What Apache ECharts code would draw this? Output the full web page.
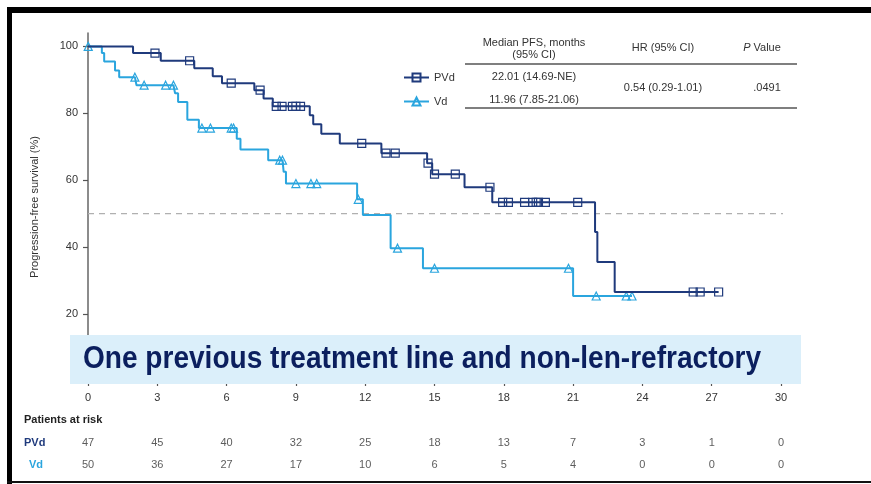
<!DOCTYPE html>
<html><head><meta charset="utf-8">
<script src="https://cdn.jsdelivr.net/npm/echarts@6/dist/echarts.min.js"></script>
<style>html,body{margin:0;padding:0;background:#fff}#c{width:871px;height:484px}</style>
</head><body><div id="c"></div>
<script>
// ---- data ----
const xTicks = [0, 3, 6, 9, 12, 15, 18, 21, 24, 27, 30];
const yTicks = [0, 20, 40, 60, 80, 100];
const pvdEvents = [[0,100],[1.95,98.0],[3.15,95.7],[4.6,93.5],[5.4,91.1],[5.8,89.0],[7.2,86.9],[7.6,84.4],[8.0,82.1],[9.6,79.4],[9.75,76.7],[10.1,73.9],[10.9,71.0],[12.7,68.1],[14.68,65.1],[14.9,61.8],[16.3,57.9],[17.5,53.4],[21.95,44.5],[22.05,35.6],[22.8,26.6]];
const pvdCensors = [[2.9,98.0],[4.4,95.7],[6.2,89.0],[7.45,86.9],[8.15,82.1],[8.4,82.1],[8.85,82.1],[9.0,82.1],[9.2,82.1],[11.85,71.0],[12.9,68.1],[13.3,68.1],[14.72,65.1],[15.0,61.8],[15.9,61.8],[17.4,57.9],[17.95,53.4],[18.2,53.4],[18.9,53.4],[19.25,53.4],[19.4,53.4],[19.5,53.4],[19.8,53.4],[21.2,53.4],[26.2,26.6],[26.5,26.6],[27.3,26.6]];
const vdEvents = [[0,100],[0.6,98.0],[0.7,95.5],[1.17,92.8],[1.35,90.8],[2.1,88.4],[3.77,86.0],[3.9,83.4],[4.3,78.1],[4.8,75.6],[6.44,72.4],[6.6,69.2],[7.8,66.0],[8.47,62.5],[8.57,59.0],[11.65,54.3],[11.9,49.6],[13.1,39.7],[14.5,33.7],[21.0,25.4]];
const vdCensors = [[0.01,100],[2.03,90.8],[2.43,88.4],[3.36,88.4],[3.7,88.4],[4.93,75.6],[5.3,75.6],[6.2,75.6],[6.3,75.6],[8.3,66.0],[8.42,66.0],[9.0,59.0],[9.65,59.0],[9.9,59.0],[11.7,54.3],[13.4,39.7],[15.0,33.7],[20.8,33.7],[22.0,25.4],[23.3,25.4],[23.55,25.4]];
const refLine = [[0,50],[30.87,50]];
const riskTimes = [0, 3, 6, 9, 12, 15, 18, 21, 24, 27, 30];
const riskPVd = [47, 45, 40, 32, 25, 18, 13, 7, 3, 1, 0];
const riskVd = [50, 36, 27, 17, 10, 6, 5, 4, 0, 0, 0];
const seriesNames = ['PVd', 'Vd'];
const medianPFS = ['22.01 (14.69-NE)', '11.96 (7.85-21.06)'];
const hrText = '0.54 (0.29-1.01)';
const pText = '.0491';
const boxTitle = 'One previous treatment line and non-len-refractory';

const NAVY = '#1f3a7c', LBLUE = '#2aa5de';

function build(events, censors) {
  const pts = events.map(p => ({ value: p, symbol: 'none' }))
    .concat(censors.map(p => ({ value: p })));
  pts.sort((a, b) => a.value[0] - b.value[0]);
  return pts;
}

const chart = echarts.init(document.getElementById('c'));
const FONT = '"Liberation Sans", Arial, sans-serif';
const txt = (x, y, text, extra) => ({ type: 'text', z: 50, style: Object.assign({ x, y, text, fill: '#333', font: '11px ' + FONT, align: 'center', verticalAlign: 'middle' }, extra || {}) });
const rule = (y) => ({ type: 'line', z: 50, shape: { x1: 465, y1: y, x2: 797, y2: y }, style: { stroke: '#555', lineWidth: 1.5 } });

chart.setOption({
  animation: false,
  textStyle: { fontFamily: FONT },
  grid: [
    { left: 88, width: 693, top: 33, height: 348 },
    { left: 88, width: 693, top: 443, height: 22 }
  ],
  xAxis: [
    { type: 'value', gridIndex: 0, min: 0, max: 30, interval: 3, offset: 2,
      axisLine: { show: false }, splitLine: { show: false },
      axisTick: { show: true, length: 5, lineStyle: { color: '#555', width: 1.2 } },
      axisLabel: { color: '#333', fontSize: 11, margin: 9 } },
    { type: 'value', gridIndex: 1, min: 0, max: 30, show: false }
  ],
  yAxis: [
    { type: 'value', gridIndex: 0, min: 0, max: 104,
      name: 'Progression-free survival (%)', nameLocation: 'middle', nameGap: 48,
      nameTextStyle: { color: '#333', fontSize: 11 },
      axisLine: { show: true, lineStyle: { color: '#666', width: 1.5 } },
      axisTick: { show: true, length: 5, customValues: yTicks, lineStyle: { color: '#555', width: 1.2 } },
      axisLabel: { color: '#333', fontSize: 11, margin: 10, customValues: yTicks },
      splitLine: { show: false } },
    { type: 'value', gridIndex: 1, min: 0, max: 1, show: false }
  ],
  legend: {
    data: seriesNames, orient: 'vertical', left: 403, top: 72, itemWidth: 25, itemHeight: 10, itemGap: 13,
    padding: 0, textStyle: { color: '#333', fontSize: 11 }, selectedMode: false
  },
  series: [
    { type: 'line', name: '50%', data: refLine, symbol: 'none', clip: false, silent: true, z: 1,
      lineStyle: { color: '#b0b0b0', width: 1.2, type: [6, 5] } },
    { type: 'line', name: 'Vd', data: build(vdEvents, vdCensors), step: 'end', symbol: 'triangle', symbolSize: 8,
      showAllSymbol: true, clip: false, z: 3,
      lineStyle: { color: LBLUE, width: 2 },
      itemStyle: { color: 'rgba(255,255,255,0)', borderColor: LBLUE, borderWidth: 1.2 } },
    { type: 'line', name: 'PVd', data: build(pvdEvents, pvdCensors), step: 'end', symbol: 'rect', symbolSize: 8,
      showAllSymbol: true, clip: false, z: 4,
      lineStyle: { color: NAVY, width: 2 },
      itemStyle: { color: 'rgba(255,255,255,0)', borderColor: NAVY, borderWidth: 1.2 } },
    { type: 'scatter', xAxisIndex: 1, yAxisIndex: 1, silent: true, symbolSize: 1,
      itemStyle: { color: 'rgba(0,0,0,0)' },
      data: riskTimes.map((t, i) => [t, 1, riskPVd[i]]),
      label: { show: true, position: 'inside', formatter: p => String(p.value[2]), color: '#333', fontSize: 11 } },
    { type: 'scatter', xAxisIndex: 1, yAxisIndex: 1, silent: true, symbolSize: 1,
      itemStyle: { color: 'rgba(0,0,0,0)' },
      data: riskTimes.map((t, i) => [t, 0, riskVd[i]]),
      label: { show: true, position: 'inside', formatter: p => String(p.value[2]), color: '#333', fontSize: 11 } }
  ],
  graphic: [
    { type: 'rect', z: 60, shape: { x: 7, y: 7, width: 864, height: 6 }, style: { fill: '#000' } },
    { type: 'rect', z: 60, shape: { x: 7, y: 7, width: 5, height: 477 }, style: { fill: '#000' } },
    { type: 'rect', z: 60, shape: { x: 7, y: 481, width: 864, height: 2 }, style: { fill: '#111' } },
    { type: 'rect', z: 100, shape: { x: 70, y: 335, width: 731, height: 49 }, style: { fill: '#dbeffa' } },
    { type: 'text', z: 101, x: 83, y: 359, scaleX: 0.905, scaleY: 1,
      style: { x: 0, y: 0, text: boxTitle, fill: '#0b1f5e', font: 'bold 31px ' + FONT, verticalAlign: 'middle' } },
    txt(534, 43, 'Median PFS, months'),
    txt(534, 55, '(95% CI)'),
    txt(663, 48, 'HR (95% CI)'),
    { type: 'text', z: 50, style: { x: 762, y: 48, text: '{i|P} Value', align: 'center', verticalAlign: 'middle', fill: '#333', font: '11px ' + FONT, rich: { i: { fontStyle: 'italic', fontSize: 11, fill: '#333', fontFamily: FONT } } } },
    rule(64), rule(108),
    txt(534, 77, medianPFS[0]),
    txt(534, 100, medianPFS[1]),
    txt(663, 88, hrText),
    txt(767, 88, pText),
    txt(24, 420, 'Patients at risk', { align: 'left', fill: '#222', font: 'bold 11px ' + FONT }),
    txt(24, 443, seriesNames[0], { align: 'left', fill: NAVY, font: 'bold 11px ' + FONT }),
    txt(29, 465, seriesNames[1], { align: 'left', fill: LBLUE, font: 'bold 11px ' + FONT })
  ]
});
</script></body></html>
